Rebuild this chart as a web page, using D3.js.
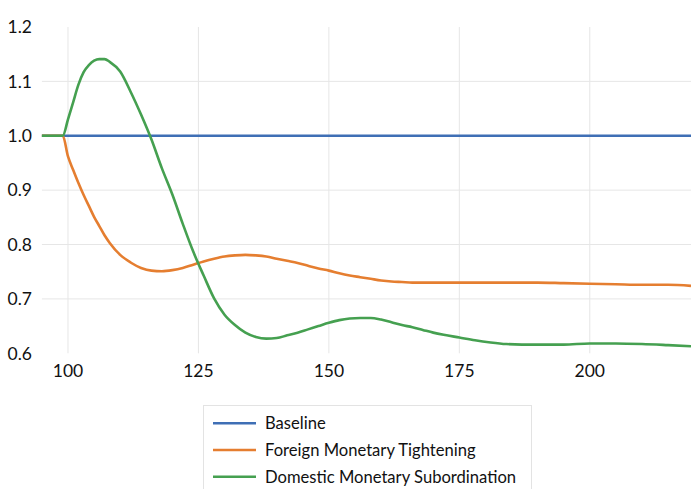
<!DOCTYPE html>
<html>
<head>
<meta charset="utf-8">
<script src="https://cdn.jsdelivr.net/npm/d3@7"></script>
<style>
  html, body { margin: 0; padding: 0; background: #fff; }
  svg { display: block; font-family: Lato, "Open Sans", sans-serif; }
</style>
</head>
<body>
<svg id="chart" width="691" height="489"></svg>
<script>
const periods = [95, 99, 100, 101, 102, 103, 104, 105, 106, 107, 108, 110, 112, 114, 116, 118, 120, 122, 124, 126, 128, 130, 132, 134, 136, 138, 140, 142, 144, 146, 148, 150, 152, 154, 156, 158, 160, 162, 164, 166, 168, 170, 172, 175, 178, 181, 184, 187, 190, 195, 200, 205, 210, 215, 219.4];

const baseline = periods.map(() => 1.0);

const foreignTightening = [1.0, 1.0, 0.962, 0.937, 0.913, 0.891, 0.871, 0.851, 0.834, 0.817, 0.803, 0.781, 0.767, 0.757, 0.752, 0.751, 0.753, 0.757, 0.763, 0.769, 0.774, 0.778, 0.780, 0.781, 0.780, 0.778, 0.774, 0.770, 0.766, 0.761, 0.756, 0.752, 0.747, 0.743, 0.740, 0.737, 0.734, 0.732, 0.731, 0.730, 0.730, 0.730, 0.730, 0.730, 0.730, 0.730, 0.730, 0.730, 0.730, 0.729, 0.728, 0.727, 0.726, 0.726, 0.724];

const domesticSubordination = [1.0, 1.0, 1.03, 1.062, 1.094, 1.117, 1.130, 1.138, 1.141, 1.141, 1.136, 1.118, 1.081, 1.039, 0.993, 0.940, 0.892, 0.838, 0.787, 0.743, 0.701, 0.671, 0.652, 0.638, 0.630, 0.627, 0.628, 0.633, 0.638, 0.644, 0.650, 0.656, 0.661, 0.664, 0.665, 0.665, 0.662, 0.657, 0.652, 0.648, 0.643, 0.638, 0.634, 0.629, 0.624, 0.620, 0.617, 0.616, 0.616, 0.616, 0.618, 0.618, 0.617, 0.615, 0.613];

const seriesNames = ["Baseline", "Foreign Monetary Tightening", "Domestic Monetary Subordination"];
const seriesColors = ["#3F6FB5", "#E57E30", "#45A050"];
const xTicks = [100, 125, 150, 175, 200];
const yTicks = [0.6, 0.7, 0.8, 0.9, 1.0, 1.1, 1.2];

const svg = d3.select("#chart");
const x = d3.scaleLinear().domain([95, 219.4]).range([41.9, 691]);
const y = d3.scaleLinear().domain([0.6, 1.2]).range([353.3, 27]);

// gridlines
const g = svg.append("g");
g.selectAll("line.v").data(xTicks).enter().append("line")
  .attr("x1", d => x(d)).attr("x2", d => x(d))
  .attr("y1", y(1.2)).attr("y2", y(0.6))
  .attr("stroke", "#e6e6e6").attr("stroke-width", 1);
g.selectAll("line.h").data(yTicks.filter(d => d > 0.65 && d < 1.15)).enter().append("line")
  .attr("x1", x(95)).attr("x2", 691)
  .attr("y1", d => y(d)).attr("y2", d => y(d))
  .attr("stroke", "#e6e6e6").attr("stroke-width", 1);

// axis labels
svg.append("g").selectAll("text").data(yTicks).enter().append("text")
  .attr("x", 7.5).attr("y", d => y(d)).attr("dy", "0.36em")
  .attr("font-size", 17.5).attr("fill", "#111")
  .text(d => d3.format(".1f")(d));
svg.append("g").selectAll("text").data(xTicks).enter().append("text")
  .attr("x", d => x(d)).attr("y", 377).attr("text-anchor", "middle")
  .attr("font-size", 17.5).attr("fill", "#111")
  .text(d => d);

// lines
const series = [baseline, foreignTightening, domesticSubordination];
const line = d3.line().x((d, i) => x(periods[i])).y(d => y(d)).curve(d3.curveMonotoneX);
series.forEach((s, k) => {
  svg.append("path").datum(s)
    .attr("d", line)
    .attr("fill", "none")
    .attr("stroke", seriesColors[k])
    .attr("stroke-width", 2.6)
    .attr("stroke-linejoin", "round");
});

// legend
const lg = svg.append("g");
lg.append("rect").attr("x", 203.5).attr("y", 405.5).attr("width", 328).attr("height", 100)
  .attr("fill", "#fff").attr("stroke", "#e3e3e3").attr("stroke-width", 1);
seriesNames.forEach((name, i) => {
  const yy = 423.3 + i * 26.7;
  lg.append("line").attr("x1", 213).attr("x2", 256).attr("y1", yy).attr("y2", yy)
    .attr("stroke", seriesColors[i]).attr("stroke-width", 2.6);
  lg.append("text").attr("x", 265).attr("y", yy).attr("dy", "0.36em")
    .attr("font-size", 16.6).attr("fill", "#111").text(name);
});
</script>
</body>
</html>
